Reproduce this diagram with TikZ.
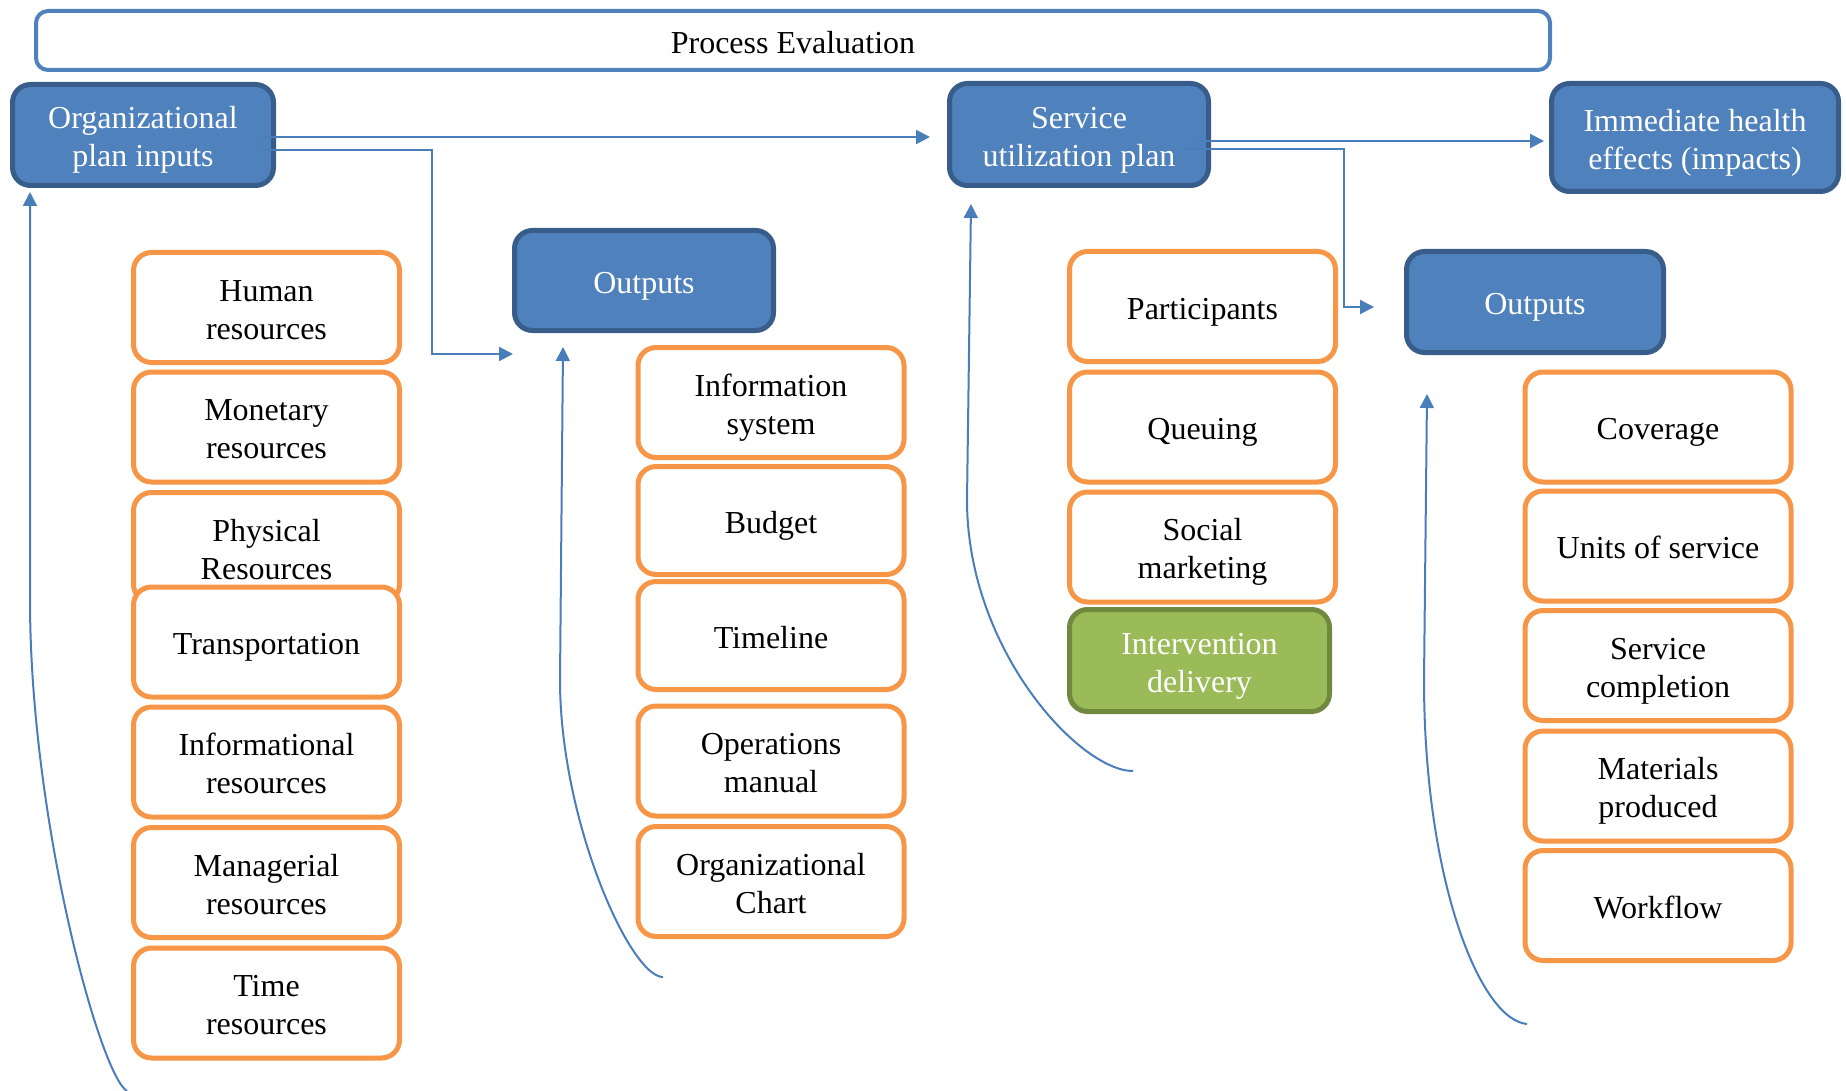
\documentclass[tikz,border=0pt]{standalone}
\usepackage{fontspec}
\setmainfont{Liberation Serif}
\usetikzlibrary{arrows.meta}

\definecolor{accblue}{HTML}{4F81BD}
\definecolor{darkblue}{HTML}{385D8A}
\definecolor{accorange}{HTML}{F79646}
\definecolor{accgreen}{HTML}{9BBB59}
\definecolor{darkgreen}{HTML}{71893F}
\definecolor{linkblue}{HTML}{4A7EBB}

% centred box text, set a little below the middle of its box
\newcommand\boxtext[1]{\raisebox{-5pt}[\height][\depth]{\begin{tabular}{@{}c@{}}#1\end{tabular}}}

\begin{document}
\begin{tikzpicture}[x=1pt,y=-1pt,
  every node/.style={font=\fontsize{32}{38}\selectfont, inner sep=0pt},
  frame/.style={draw=accblue, line width=4pt, rounded corners=12pt,
    minimum width=1514pt, minimum height=59pt},
  bluebox/.style={fill=accblue, draw=darkblue, line width=5pt, rounded corners=18pt,
    text=white, minimum height=101pt},
  itembox/.style={fill=white, draw=accorange, line width=5pt, rounded corners=18pt,
    minimum width=266pt, minimum height=110pt},
  greenbox/.style={fill=accgreen, draw=darkgreen, line width=5pt, rounded corners=18pt,
    text=white, minimum width=260pt, minimum height=102pt},
  conn/.style={draw=linkblue, line width=2pt, -{Triangle[length=14pt,width=14pt]}}
]
\useasboundingbox (0,0) rectangle (1846,1091);

% header
\node[frame] (proc) at (793,40.5) {\boxtext{Process Evaluation}};

% main stages
\node[bluebox, minimum width=261pt] (org) at (143,135) {\boxtext{Organizational\\plan inputs}};
\node[bluebox, minimum width=259pt, minimum height=102pt] (svc) at (1079,134.5) {\boxtext{Service\\utilization plan}};
\node[bluebox, minimum width=287pt, minimum height=108pt] (imm) at (1695,137.5) {\boxtext{Immediate health\\effects (impacts)}};
\node[bluebox, minimum width=259pt, minimum height=100pt] (out1) at (644,280.5) {\boxtext{Outputs}};
\node[bluebox, minimum width=257pt] (out2) at (1535,302) {\boxtext{Outputs}};

% organizational plan inputs
\node[itembox] (human) at (266.5,307.5) {\boxtext{Human\\resources}};
\node[itembox] (money) at (266.5,427) {\boxtext{Monetary\\resources}};
\node[itembox] (phys) at (266.5,547.5) {\boxtext{Physical\\Resources}};
\node[itembox] (trans) at (266.5,642) {\boxtext{Transportation}};
\node[itembox] (info) at (266.5,762) {\boxtext{Informational\\resources}};
\node[itembox] (manag) at (266.5,882.5) {\boxtext{Managerial\\resources}};
\node[itembox] (time) at (266.5,1003) {\boxtext{Time\\resources}};

% organizational outputs
\node[itembox] (infosys) at (771,402.5) {\boxtext{Information\\system}};
\node[itembox, minimum height=108pt] (budget) at (771,520.5) {\boxtext{Budget}};
\node[itembox, minimum height=108pt] (timeline) at (771,635.5) {\boxtext{Timeline}};
\node[itembox] (ops) at (771,761) {\boxtext{Operations\\manual}};
\node[itembox] (chart) at (771,881.5) {\boxtext{Organizational\\Chart}};

% service utilization plan
\node[itembox] (part) at (1202.5,306.5) {\boxtext{Participants}};
\node[itembox] (queue) at (1202.5,427) {\boxtext{Queuing}};
\node[itembox] (social) at (1202.5,547) {\boxtext{Social\\marketing}};
\node[greenbox] (deliv) at (1199.5,660.5) {\boxtext{Intervention\\delivery}};

% service outputs
\node[itembox] (cover) at (1658,427) {\boxtext{Coverage}};
\node[itembox] (units) at (1658,546) {\boxtext{Units of service}};
\node[itembox] (compl) at (1658,665.5) {\boxtext{Service\\completion}};
\node[itembox] (mater) at (1658,786) {\boxtext{Materials\\produced}};
\node[itembox] (work) at (1658,905.5) {\boxtext{Workflow}};

% free ends of connectors
\coordinate (e1) at (513,354);
\coordinate (e2) at (1374,307);
\coordinate (c1a) at (127,1091);
\coordinate (c1b) at (30,192);
\coordinate (c2a) at (663,977);
\coordinate (c2b) at (563,347);
\coordinate (c3a) at (1133,771);
\coordinate (c3b) at (971,204);
\coordinate (c4a) at (1527,1024);
\coordinate (c4b) at (1427,394);

% straight and elbow connectors
\coordinate (s1) at ([xshift=-14pt,yshift=-2pt]org.east);
\draw[conn, shorten >=17pt] (s1) -- (s1 -| svc.west);
\draw[conn] ([xshift=-14pt,yshift=-15pt]org.east) -| (432,354) -- (e1);

\coordinate (s2) at ([xshift=-14pt,yshift=-6.5pt]svc.east);
\draw[conn, shorten >=5pt] (s2) -- (s2 -| imm.west);
\draw[conn] ([xshift=-27pt,yshift=-14.5pt]svc.east) -| (1344,307) -- (e2);

% feedback curves
\draw[conn] (c1a) .. controls (100,1075) and (30,820) .. (30,600) -- (c1b);
\draw[conn] (c2a) .. controls (630,977) and (560,820) .. (560,680) -- (c2b);
\draw[conn] (c3a) .. controls (1080,771) and (967,650) .. (967,500) -- (c3b);
\draw[conn] (c4a) .. controls (1480,1020) and (1424,880) .. (1424,680) -- (c4b);
\end{tikzpicture}
\end{document}
